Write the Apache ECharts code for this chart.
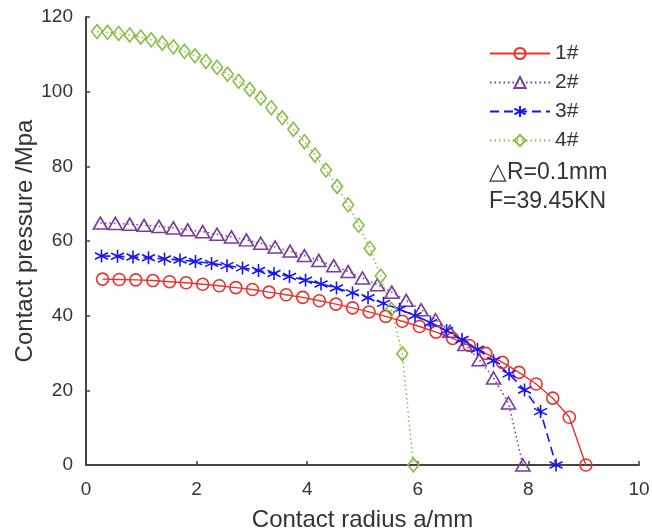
<!DOCTYPE html>
<html>
<head>
<meta charset="utf-8">
<script src="https://cdn.jsdelivr.net/npm/echarts@6/dist/echarts.min.js"></script>
<style>html,body{margin:0;padding:0;background:#fff}#c{width:652px;height:532px}</style>
</head>
<body>
<div id="c"></div>
<script>
var seriesNames = ['1#', '2#', '3#', '4#'];
var xTicks = [0, 2, 4, 6, 8, 10];
var yTicks = [0, 20, 40, 60, 80, 100, 120];

var x1 = [0.30,0.60,0.90,1.21,1.51,1.81,2.11,2.41,2.71,3.01,3.31,3.62,3.92,4.22,4.52,4.82,5.12,5.42,5.72,6.03,6.33,6.63,6.93,7.23,7.53,7.83,8.14,8.44,8.74,9.04];
var y1 = [49.8,49.7,49.6,49.4,49.1,48.8,48.4,48.0,47.5,47.0,46.3,45.6,44.9,44.0,43.1,42.1,41.0,39.8,38.5,37.1,35.6,33.9,32.0,29.9,27.5,24.8,21.7,17.9,12.8,0];

var x2 = [0.26,0.53,0.79,1.05,1.32,1.58,1.84,2.11,2.37,2.63,2.90,3.16,3.42,3.69,3.95,4.21,4.48,4.74,5.00,5.27,5.53,5.79,6.06,6.32,6.58,6.85,7.11,7.37,7.64,7.90];
var y2 = [64.8,64.7,64.5,64.2,63.9,63.5,63.0,62.5,61.8,61.1,60.3,59.4,58.4,57.3,56.1,54.8,53.4,51.8,50.1,48.3,46.3,44.1,41.6,38.9,35.8,32.3,28.2,23.3,16.6,0];

var x3 = [0.28,0.57,0.85,1.13,1.42,1.70,1.98,2.27,2.55,2.83,3.12,3.40,3.68,3.97,4.25,4.53,4.82,5.10,5.38,5.67,5.95,6.23,6.52,6.80,7.08,7.37,7.65,7.93,8.22,8.50];
var y3 = [56.0,55.9,55.7,55.5,55.2,54.9,54.5,54.0,53.4,52.8,52.1,51.3,50.5,49.5,48.5,47.4,46.1,44.8,43.3,41.7,40.0,38.1,36.0,33.6,31.0,27.9,24.4,20.1,14.3,0];

var x4 = [0.20,0.39,0.59,0.79,0.99,1.18,1.38,1.58,1.78,1.97,2.17,2.37,2.56,2.76,2.96,3.16,3.35,3.55,3.75,3.95,4.14,4.34,4.54,4.74,4.93,5.13,5.33,5.52,5.72,5.92];
var y4 = [116.1,115.9,115.6,115.2,114.6,113.9,113.0,112.0,110.8,109.6,108.1,106.5,104.7,102.8,100.6,98.3,95.7,93.0,89.9,86.6,83.0,79.0,74.6,69.7,64.2,58.0,50.6,41.7,29.8,0];

function pairs(xs, ys) { return xs.map(function (x, i) { return [x, ys[i]]; }); }

var FONT = '"Liberation Sans", Arial, sans-serif';
var TXT = '#333';
var AX = '#444';
var cRed = '#e8332e', cPur = '#7b3a9e', cBlue = '#1515f5', cGreen = '#86bd45';
var asterisk = 'path://M0,-10L0,10M-8.66,-5L8.66,5M-8.66,5L8.66,-5';

function mkSeries(name, data, color, symbol, size, ltype, lw) {
  return {
    name: name, type: 'line', data: data, symbol: symbol, symbolSize: size,
    showAllSymbol: true, clip: false,
    lineStyle: { color: color, width: lw, type: ltype },
    itemStyle: { color: 'rgba(255,255,255,0)', borderColor: color, borderWidth: 1.6 },
    emphasis: { disabled: true }, animation: false
  };
}

var chart = echarts.init(document.getElementById('c'), null, { renderer: 'canvas' });
chart.setOption({
  animation: false,
  grid: { left: 86, right: 13, top: 17, bottom: 67, containLabel: false, outerBoundsMode: 'none' },
  xAxis: {
    type: 'value', min: xTicks[0], max: xTicks[xTicks.length - 1], interval: 2,
    name: 'Contact radius a/mm', nameLocation: 'middle', nameGap: 43, nameMoveOverlap: false,
    nameTextStyle: { fontFamily: FONT, fontSize: 24, color: TXT },
    axisLine: { lineStyle: { color: AX, width: 2 } },
    axisTick: { inside: true, length: 4, lineStyle: { color: AX, width: 1.5 } },
    axisLabel: { fontFamily: FONT, fontSize: 19, color: TXT, margin: 15 },
    splitLine: { show: false }
  },
  yAxis: {
    type: 'value', min: yTicks[0], max: yTicks[yTicks.length - 1], interval: 20,
    name: 'Contact pressure /Mpa', nameLocation: 'middle', nameGap: 49, nameMoveOverlap: false,
    nameTextStyle: { fontFamily: FONT, fontSize: 24, color: TXT },
    axisLine: { show: true, lineStyle: { color: AX, width: 2 } },
    axisTick: { show: true, inside: true, length: 4, lineStyle: { color: AX, width: 1.5 } },
    axisLabel: { fontFamily: FONT, fontSize: 19, color: TXT, margin: 13 },
    splitLine: { show: false }
  },
  legend: {
    orient: 'vertical', left: 484, top: 38, itemWidth: 60, itemHeight: 14, itemGap: 8,
    textStyle: { fontFamily: FONT, fontSize: 21, color: TXT, lineHeight: 21 },
    data: seriesNames, selectedMode: false
  },
  graphic: [
    { type: 'text', left: 489, top: 161, style: { text: '\u25B3R=0.1mm', font: '23px "Liberation Sans", Arial, sans-serif', fill: TXT } },
    { type: 'text', left: 489, top: 190, style: { text: 'F=39.45KN', font: '23px "Liberation Sans", Arial, sans-serif', fill: TXT } }
  ],
  series: [
    mkSeries(seriesNames[0], pairs(x1, y1), cRed, 'circle', 12, 'solid', 1.4),
    mkSeries(seriesNames[1], pairs(x2, y2), cPur, 'triangle', [14, 12], [1.5, 3], 1.5),
    mkSeries(seriesNames[2], pairs(x3, y3), cBlue, asterisk, 13, [9, 5], 1.6),
    mkSeries(seriesNames[3], pairs(x4, y4), cGreen, 'diamond', [11, 14], [1.5, 3], 1.5)
  ]
});
</script>
</body>
</html>
